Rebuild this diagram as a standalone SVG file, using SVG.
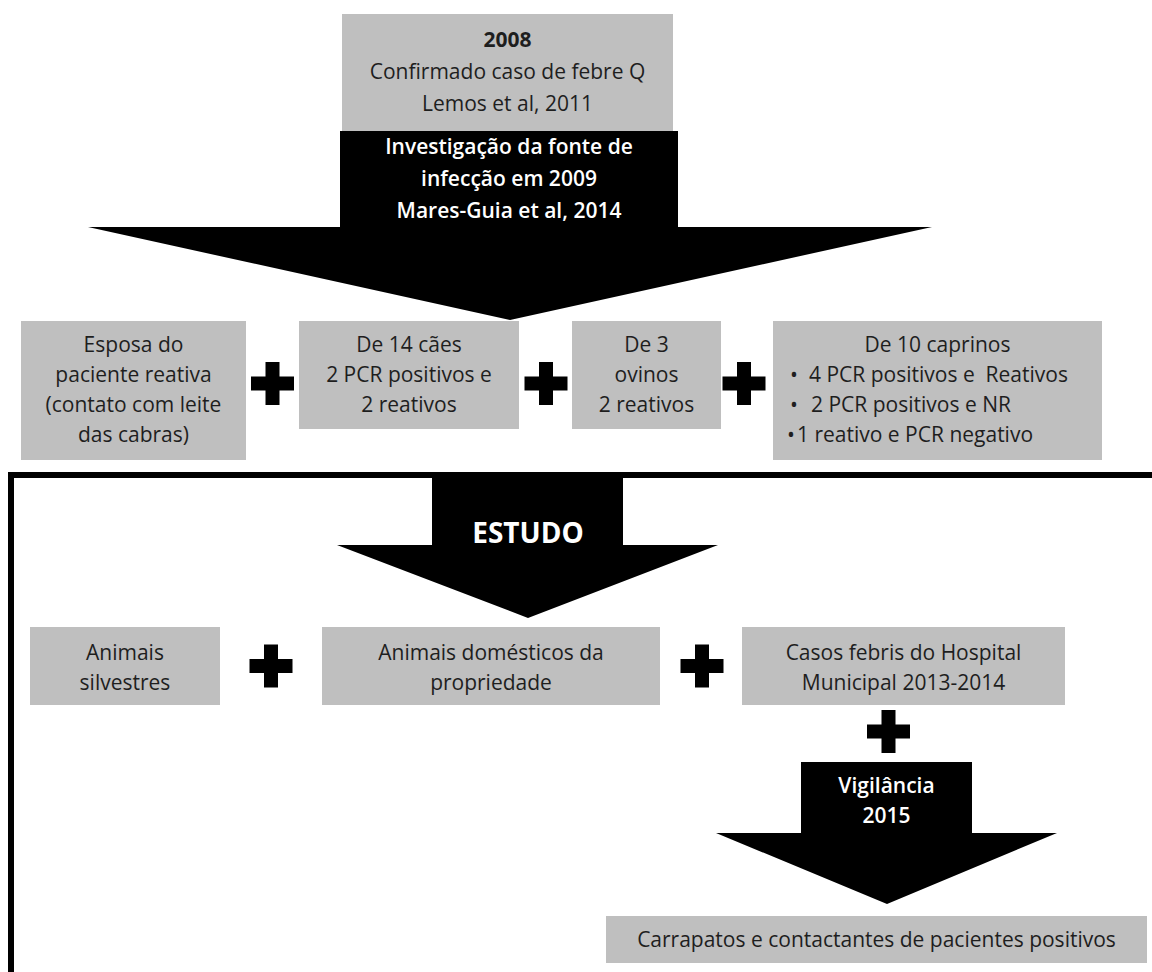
<svg xmlns="http://www.w3.org/2000/svg" width="1152" height="972" viewBox="0 0 1152 972">
<defs>
<style>
.box{fill:#bfbfbf;}
.t{font-family:"Open Sans","Liberation Sans",sans-serif;font-size:21px;fill:#1e1e1e;text-anchor:middle;}
.ts{font-family:"Open Sans","Liberation Sans",sans-serif;font-size:21px;fill:#1e1e1e;}
.w{font-family:"Open Sans","Liberation Sans",sans-serif;font-size:21px;font-weight:600;fill:#ffffff;text-anchor:middle;}
.b{font-weight:bold;}
.arrow{fill:#000000;}
.plus{fill:#000000;}
</style>
<path id="plus" d="M-7,-21.5 h14 v14.5 h14.5 v14 h-14.5 v14.5 h-14 v-14.5 h-14.5 v-14 h14.5 z"/>
</defs>
<rect width="1152" height="972" fill="#ffffff"/>

<!-- frame -->
<rect x="11" y="475" width="1200" height="600" fill="none" stroke="#000000" stroke-width="6"/>

<g id="node-2008">
<rect class="box" x="342" y="14" width="331" height="117"/>
<text class="t b" x="507.5" y="47">2008</text>
<text class="t" x="507.5" y="79">Confirmado caso de febre Q</text>
<text class="t" x="507.5" y="111">Lemos et al, 2011</text>
</g>

<g id="node-esposa">
<rect class="box" x="21" y="321" width="225" height="139"/>
<text class="t" x="133.5" y="352">Esposa do</text>
<text class="t" x="133.5" y="382">paciente reativa</text>
<text class="t" x="133.5" y="412">(contato com leite</text>
<text class="t" x="133.5" y="442">das cabras)</text>
</g>

<g id="node-caes">
<rect class="box" x="299" y="321" width="220" height="108"/>
<text class="t" x="409" y="352">De 14 cães</text>
<text class="t" x="409" y="382">2 PCR positivos e</text>
<text class="t" x="409" y="412">2 reativos</text>
</g>

<g id="node-ovinos">
<rect class="box" x="572" y="321" width="149" height="108"/>
<text class="t" x="646.5" y="352">De 3</text>
<text class="t" x="646.5" y="382">ovinos</text>
<text class="t" x="646.5" y="412">2 reativos</text>
</g>

<g id="node-caprinos">
<rect class="box" x="773" y="321" width="329" height="139"/>
<text class="t" x="937.5" y="352">De 10 caprinos</text>
<text class="ts" y="382" xml:space="preserve"><tspan x="790">•</tspan><tspan x="809">4 PCR positivos e  Reativos</tspan></text>
<text class="ts" y="412"><tspan x="790">•</tspan><tspan x="811">2 PCR positivos e NR</tspan></text>
<text class="ts" y="442"><tspan x="787">•</tspan><tspan x="797">1 reativo e PCR negativo</tspan></text>
</g>

<g id="node-silvestres">
<rect class="box" x="30" y="627" width="190" height="78"/>
<text class="t" x="125" y="660">Animais</text>
<text class="t" x="125" y="690">silvestres</text>
</g>

<g id="node-domesticos">
<rect class="box" x="322" y="627" width="338" height="78"/>
<text class="t" x="491" y="660">Animais domésticos da</text>
<text class="t" x="491" y="690">propriedade</text>
</g>

<g id="node-casos">
<rect class="box" x="742" y="627" width="323" height="78"/>
<text class="t" x="903.5" y="660">Casos febris do Hospital</text>
<text class="t" x="903.5" y="690">Municipal 2013-2014</text>
</g>

<g id="node-carrapatos">
<rect class="box" x="606" y="916" width="541" height="47"/>
<text class="t" x="876.5" y="947">Carrapatos e contactantes de pacientes positivos</text>
</g>

<g id="connectors">
<g id="arrow-investigacao">
<polygon class="arrow" points="340,131 678,131 678,227 932,227 510,320 88,227 340,227"/>
<text class="w" x="509" y="154">Investigação da fonte de</text>
<text class="w" x="509" y="186">infecção em 2009</text>
<text class="w" x="509" y="218">Mares-Guia et al, 2014</text>
</g>
<g id="arrow-estudo">
<polygon class="arrow" points="432,477 623,477 623,545 718,545 528,618 337,545 432,545"/>
<text class="w b" x="528" y="543" style="font-size:28px;font-weight:bold">ESTUDO</text>
</g>
<g id="arrow-vigilancia">
<polygon class="arrow" points="801,762 972,762 972,833 1057,833 887,904 716,833 801,833"/>
<text class="w" x="886.5" y="793">Vigilância</text>
<text class="w" x="886.5" y="823">2015</text>
</g>
<g id="plus-signs">
<use href="#plus" class="plus" x="272.5" y="383.5"/>
<use href="#plus" class="plus" x="546" y="383.5"/>
<use href="#plus" class="plus" x="744" y="383.5"/>
<use href="#plus" class="plus" x="271" y="666"/>
<use href="#plus" class="plus" x="702" y="666"/>
<use href="#plus" class="plus" x="888.5" y="731.5"/>
</g>
</g>
</svg>
